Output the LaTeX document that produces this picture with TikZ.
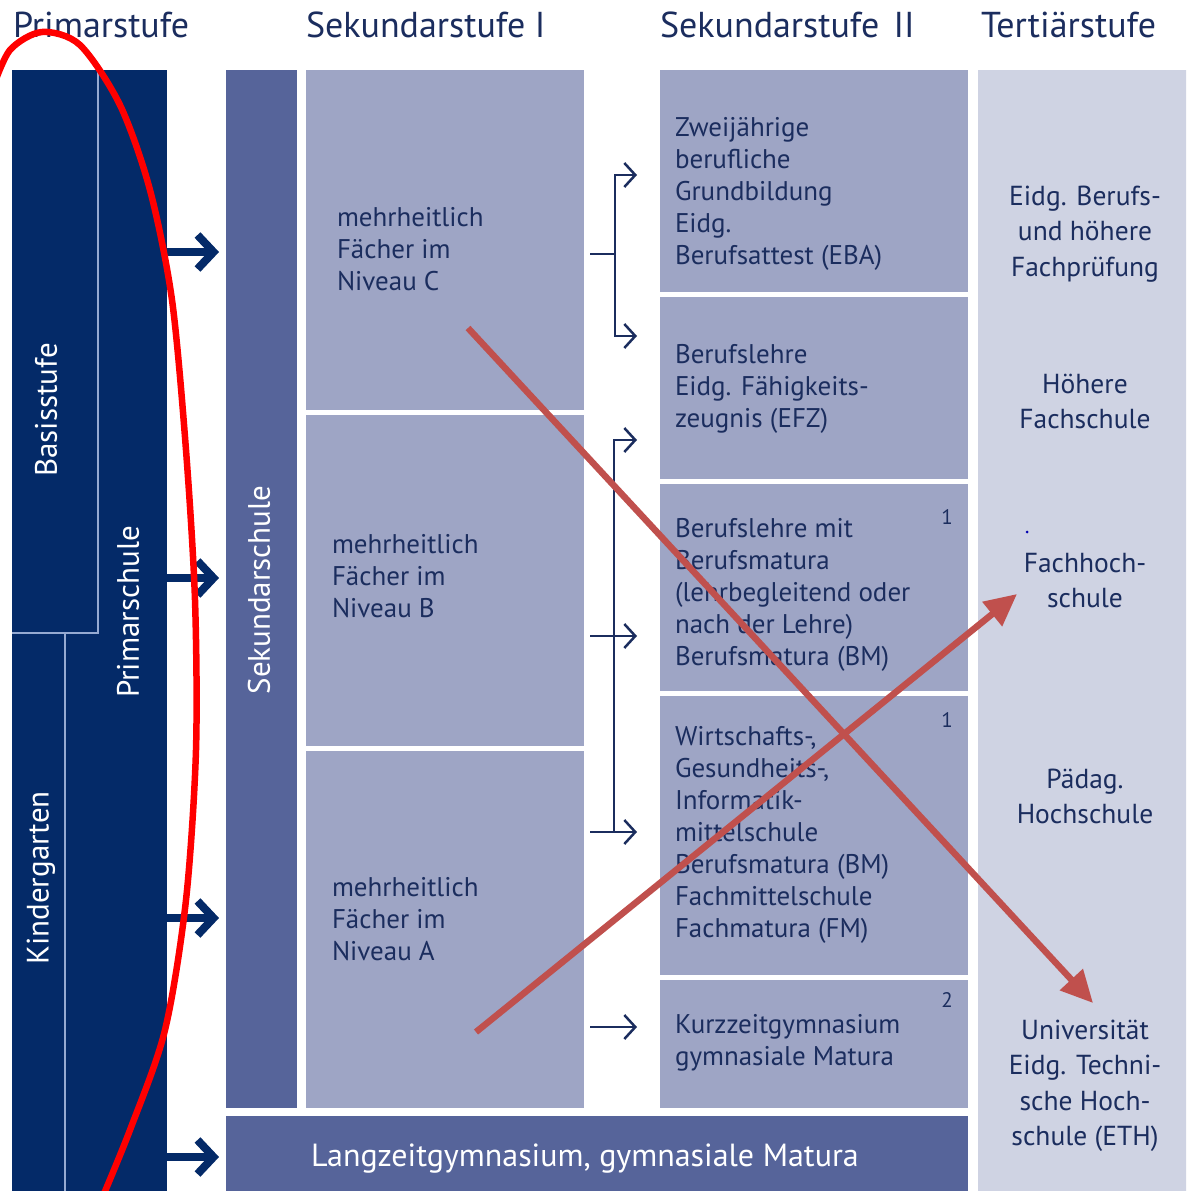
\documentclass[tikz,border=0pt]{standalone}
\usepackage{fontspec}
\setmainfont{PT Sans}
\usetikzlibrary{positioning,arrows.meta}

\definecolor{navy}{RGB}{4,42,104}
\definecolor{slate}{RGB}{86,100,154}
\definecolor{lightslate}{RGB}{158,165,197}
\definecolor{paleslate}{RGB}{207,211,227}
\definecolor{inktext}{RGB}{27,45,94}
\definecolor{divider}{RGB}{150,170,210}
\definecolor{markred}{RGB}{192,80,77}

\begin{document}
\begin{tikzpicture}[x=1pt, y=-1pt,
    every node/.style={inner sep=0pt, outer sep=0pt},
    darkbox/.style={fill=navy, anchor=north west},
    midbox/.style={fill=slate, anchor=north west},
    niveaubox/.style={fill=lightslate, anchor=north west, minimum width=278pt},
    lightbox/.style={fill=lightslate, anchor=north west, minimum width=308pt},
    stage/.style={font=\fontsize{36}{40}\selectfont, text=inktext, anchor=base west},
    boxtext/.style={font=\fontsize{27}{32}\selectfont, text=inktext, align=left, anchor=north west},
    tertext/.style={font=\fontsize{27.5}{35.5}\selectfont, text=inktext, align=center, anchor=north},
    sidetext/.style={font=\fontsize{31}{36}\selectfont, text=white, rotate=90},
    footnum/.style={font=\fontsize{21}{24}\selectfont, text=inktext},
    divline/.style={divider, line width=2pt},
    bigarrow/.style={navy, line width=8pt, -{Straight Barb[length=16pt, width=34pt]}},
    thinline/.style={inktext, line width=2.5pt},
    thinarrow/.style={thinline, -{Straight Barb[length=11pt, width=24pt]}},
    redarrow/.style={markred, line width=6.5pt, -{Triangle[length=32pt, width=30pt]}}]

\useasboundingbox (0,0) rectangle (1186,1191);
\clip (0,0) rectangle (1186,1191);

% Stages
\node[stage] (primarstufe) at (13,37) {Primarstufe};
\node[stage] (sek1) at (306,37) {Sekundarstufe I};
\node[stage] (sek2) at (660,37) {Sekundarstufe\hspace{0.4em}II};
\node[stage] (tertiaerstufe) at (981,37) {Tertiärstufe};

% Blocks
\node[darkbox, minimum width=155pt, minimum height=1130pt] (primar) at (12,70) {};
\node[anchor=north west, minimum width=86pt, minimum height=563pt] (basis) at (12,70) {};
\node[anchor=north west, minimum width=53pt, minimum height=570pt] (kinder) at (12,633) {};
\draw[divline] (basis.north east) -- (basis.south east) -- (basis.south west);
\draw[divline] (kinder.north east) -- (kinder.south east);

\node[midbox, minimum width=71pt, minimum height=1038pt] (sekschule) at (226,70) {};
\node[niveaubox, minimum height=340pt] (nivC) at (306,70) {};
\node[niveaubox, minimum height=331pt, below=5pt of nivC] (nivB) {};
\node[niveaubox, minimum height=357pt, below=5pt of nivB] (nivA) {};
\node[midbox, minimum width=742pt, minimum height=90pt] (langzeit) at (226,1116) {};

\node[lightbox, minimum height=222pt] (eba) at (660,70) {};
\node[lightbox, minimum height=182pt, below=5pt of eba] (efz) {};
\node[lightbox, minimum height=207pt, below=5pt of efz] (bm) {};
\node[lightbox, minimum height=279pt, below=5pt of bm] (wms) {};
\node[lightbox, minimum height=128pt, below=5pt of wms] (kzg) {};

\node[fill=paleslate, anchor=north west, minimum width=215pt, minimum height=1130pt] (tertiaer) at (978,70) {};

% Labels
\node[sidetext] (basislabel) at (46,410) {Basisstufe};
\node[sidetext] (primarlabel) at (128,612) {Primarschule};
\node[sidetext] (kinderlabel) at (41,878) {Kindergarten};
\node[sidetext] (sekschullabel) at (259,590) {Sekundarschule};

\node[boxtext] (nivCtext) at (337,207) {mehrheitlich\\Fächer im\\Niveau C};
\node[boxtext] (nivBtext) at (332,534) {mehrheitlich\\Fächer im\\Niveau B};
\node[boxtext] (nivAtext) at (332,877) {mehrheitlich\\Fächer im\\Niveau A};
\node[font=\fontsize{32}{36}\selectfont, text=white, anchor=base] (langzeittext) at (585,1166)
    {Langzeitgymnasium, gymnasiale Matura};

\node[boxtext] (ebatext) at (675,117)
    {Zweijährige\\berufliche\\Grundbildung\\Eidg.\\Berufsattest (EBA)};
\node[boxtext] (efztext) at (675,344)
    {Berufslehre\\Eidg. Fähigkeits-\\zeugnis (EFZ)};
\node[boxtext] (bmtext) at (675,518)
    {Berufslehre mit\\Berufsmatura\\(lehrbegleitend oder\\nach der Lehre)\\Berufsmatura (BM)};
\node[boxtext] (wmstext) at (675,726)
    {Wirtschafts-,\\Gesundheits-,\\Informatik-\\mittelschule\\Berufsmatura (BM)\\Fachmittelschule\\Fachmatura (FM)};
\node[boxtext] (kzgtext) at (675,1014)
    {Kurzzeitgymnasium\\gymnasiale Matura};
\node[footnum] (bmnum) at (947,517) {1};
\node[footnum] (wmsnum) at (947,720) {1};
\node[footnum] (kzgnum) at (947,1000) {2};

\node[tertext] (pruefung) at (1085,186) {Eidg. Berufs-\\und höhere\\Fachprüfung};
\node[tertext] (hf) at (1085,374) {Höhere\\Fachschule};
\node[tertext] (fh) at (1085,553) {Fachhoch-\\schule};
\node[tertext] (ph) at (1085,769) {Pädag.\\Hochschule};
\node[tertext] (uni) at (1085,1020) {Universität\\Eidg. Techni-\\sche Hoch-\\schule (ETH)};
\fill[blue!70!black] (1027,532) circle (1.5pt);

% Paths into Sekundarstufe II
\coordinate (fromC) at (590,254);
\coordinate (forkC) at (615,254);
\coordinate (toEba) at (637,175);
\coordinate (toEfz) at (637,336);
\draw[thinline] (fromC) -- (forkC);
\draw[thinarrow] (forkC) |- (toEba);
\draw[thinarrow] (forkC) |- (toEfz);

\coordinate (fromB) at (590,636);
\coordinate (toBm) at (637,636);
\coordinate (fromA) at (590,832);
\coordinate (toWms) at (637,832);
\coordinate (forkA) at (614,832);
\coordinate (toEfzB) at (637,440);
\draw[thinarrow] (fromB) -- (toBm);
\draw[thinarrow] (fromA) -- (toWms);
\draw[thinarrow] (forkA) |- (toEfzB);
\coordinate (fromA2) at (590,1027);
\coordinate (toKzg) at (637,1027);
\draw[thinarrow] (fromA2) -- (toKzg);

% Primarstufe to Sekundarstufe I
\foreach \y [count=\i] in {252,578,918,1157} {
    \coordinate (goal\i) at (219,\y);
    \draw[bigarrow] (primar.east |- goal\i) -- (goal\i);
}

% Red marks
\draw[red, line width=6.5pt] plot[smooth] coordinates {(-8,90) (10,50) (42,32) (80,45)
    (120,105) (150,190) (172,300) (186,450) (195,600) (196,750) (186,900)
    (165,1030) (130,1130) (95,1215)};
\coordinate (crossA) at (468,328);
\coordinate (crossAend) at (1093,1003);
\coordinate (crossB) at (476,1032);
\coordinate (crossBend) at (1017,594);
\draw[redarrow] (crossA) -- (crossAend);
\draw[redarrow] (crossB) -- (crossBend);
\end{tikzpicture}
\end{document}
